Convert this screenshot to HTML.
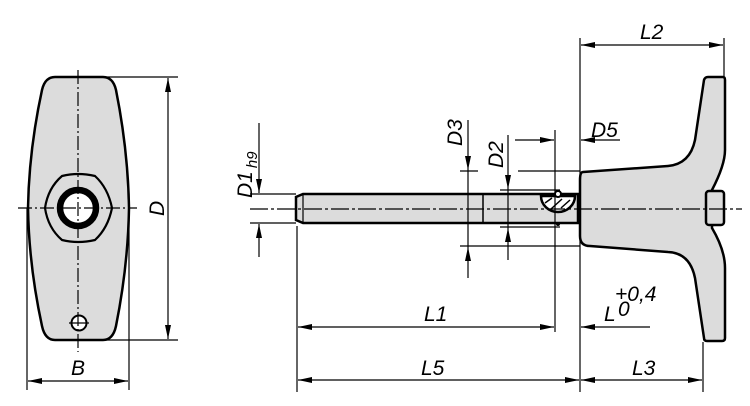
<!DOCTYPE html>
<html><head><meta charset="utf-8"><style>
html,body{margin:0;padding:0;background:#fff;}
svg{display:block;}
text{font-family:"Liberation Sans Narrow","Liberation Sans",sans-serif;font-style:italic;font-size:21px;fill:#000;}
</style></head><body>
<svg width="750" height="406" viewBox="0 0 750 406" xmlns="http://www.w3.org/2000/svg">
<defs>
<marker id="a" viewBox="0 0 14 6" refX="14" refY="3" markerWidth="14" markerHeight="6" orient="auto-start-reverse" markerUnits="userSpaceOnUse"><path d="M0,0 L14,3 L0,6 z" fill="#000"/></marker>
</defs>
<g stroke="#000" fill="none">
<!-- Left view -->
<path d="M55,77 L103,77 Q113,77 116,90 Q128,150 129,208 Q128,266 116,326 Q113,340 103,340 L55,340 Q45,340 42,326 Q29,266 28,208 Q29,150 42,90 Q45,77 55,77 Z" fill="#dcdcdc" stroke-width="2.5"/>
<path d="M62,176 Q78,172 95,176 Q108,188 112,208 Q108,228 95,240 Q78,244 62,240 Q48,228 45,208 Q48,188 62,176 Z" stroke-width="2.2"/>
<circle cx="78" cy="208" r="18" stroke-width="6.5"/>
<circle cx="78" cy="208" r="14.5" fill="#fff" stroke-width="0"/>
<circle cx="79" cy="323" r="7.5" fill="#fff" stroke-width="2"/>
<g stroke-width="1.2" stroke-dasharray="14,3,2,3">
<line x1="78" y1="70" x2="78" y2="352"/>
<line x1="18" y1="208" x2="137" y2="208"/>
</g>
<line x1="69" y1="323" x2="89" y2="323" stroke-width="1.2"/>
<g stroke-width="1.2">
<line x1="100" y1="77" x2="178" y2="77"/>
<line x1="100" y1="340" x2="178" y2="340"/>
<line x1="168" y1="78" x2="168" y2="339" marker-start="url(#a)" marker-end="url(#a)"/>
<line x1="27" y1="208" x2="27" y2="390"/>
<line x1="129" y1="220" x2="129" y2="390"/>
<line x1="28" y1="381" x2="128" y2="381" marker-start="url(#a)" marker-end="url(#a)"/>
</g>
<!-- Handle -->
<path d="M583,172 L668,166 Q690,164 695,140 L704,80 Q705,77 708,77 L723,77 Q725,77 725,80 L725,150 Q725,165 712,190 L712,228 Q725,250 725,268 L725,338 Q725,341 722,341 L707,341 Q704,341 704,338 L695,278 Q690,253 668,252 L590,246 Q580,246 580,236 L580,180 Q580,172 583,172 Z" fill="#dcdcdc" stroke-width="2.5"/>
<rect x="706" y="191" width="18" height="34" rx="3" fill="#dcdcdc" stroke-width="2.5"/>
<!-- Pin -->
<path d="M303,194 L578,194 L578,223 L303,223 L296,220 L296,197 Z" fill="#dcdcdc" stroke-width="2.5"/>
<line x1="303" y1="194" x2="303" y2="223" stroke-width="1.2"/>
<line x1="483" y1="194" x2="483" y2="223" stroke-width="1.5"/>
<path d="M541,196 L575,196 A17,16 0 0 1 541,196 Z" fill="#fff" stroke-width="2.5"/>
<g stroke-width="1.5"><line x1="545" y1="203" x2="552" y2="198"/><line x1="551" y1="209" x2="562" y2="199"/><line x1="561" y1="208" x2="570" y2="200"/></g>
<circle cx="558" cy="194" r="3" fill="#fff" stroke-width="2"/>
<circle cx="558" cy="224" r="2" fill="#000" stroke-width="0"/>
<line x1="250" y1="209" x2="742" y2="209" stroke-width="1.2" stroke-dasharray="18,3,3,3"/>
<!-- dims middle -->
<g stroke-width="1.2">
<line x1="250" y1="194" x2="296" y2="194"/>
<line x1="250" y1="223" x2="296" y2="223"/>
<line x1="259" y1="123" x2="259" y2="193" marker-end="url(#a)"/>
<line x1="259" y1="257" x2="259" y2="224" marker-end="url(#a)"/>
<line x1="460" y1="171" x2="478" y2="171"/><line x1="518" y1="171" x2="580" y2="171"/>
<line x1="460" y1="246" x2="580" y2="246"/>
<line x1="468" y1="120" x2="468" y2="170" marker-end="url(#a)"/>
<line x1="468" y1="278" x2="468" y2="247" marker-end="url(#a)"/>
<line x1="468" y1="170" x2="468" y2="247"/>
<line x1="500" y1="190" x2="560" y2="190"/>
<line x1="500" y1="227" x2="560" y2="227"/>
<line x1="508" y1="135" x2="508" y2="189" marker-end="url(#a)"/>
<line x1="508" y1="260" x2="508" y2="228" marker-end="url(#a)"/>
<line x1="508" y1="189" x2="508" y2="228"/>
<line x1="555" y1="130" x2="555" y2="332"/>
<line x1="580" y1="38" x2="580" y2="392"/>
<line x1="515" y1="140" x2="554" y2="140" marker-end="url(#a)"/>
<line x1="620" y1="140" x2="581" y2="140" marker-end="url(#a)"/>
<line x1="297" y1="226" x2="297" y2="392"/>
<line x1="724" y1="38" x2="724" y2="76"/>
<line x1="703" y1="342" x2="703" y2="392"/>
<line x1="581" y1="45" x2="723" y2="45" marker-start="url(#a)" marker-end="url(#a)"/>
<line x1="298" y1="327" x2="554" y2="327" marker-start="url(#a)" marker-end="url(#a)"/>
<line x1="650" y1="327" x2="581" y2="327" marker-end="url(#a)"/>
<line x1="298" y1="380" x2="579" y2="380" marker-start="url(#a)" marker-end="url(#a)"/>
<line x1="581" y1="380" x2="702" y2="380" marker-start="url(#a)" marker-end="url(#a)"/>
</g>
</g>
<text x="71" y="375">B</text>
<text transform="translate(164,216) rotate(-90)">D</text>
<text transform="translate(252,198) rotate(-90)">D1<tspan font-size="15" dy="5" dx="3">h9</tspan></text>
<text transform="translate(462,146) rotate(-90)">D3</text>
<text transform="translate(503,168) rotate(-90)">D2</text>
<text x="591" y="137">D5</text>
<text x="640" y="39">L2</text>
<text x="424" y="321">L1</text>
<text x="604" y="321">L</text>
<text x="615" y="301" font-size="16">+0,4</text>
<text x="618" y="316" font-size="16">0</text>
<text x="421" y="375">L5</text>
<text x="632" y="375">L3</text>
</svg>
</body></html>
